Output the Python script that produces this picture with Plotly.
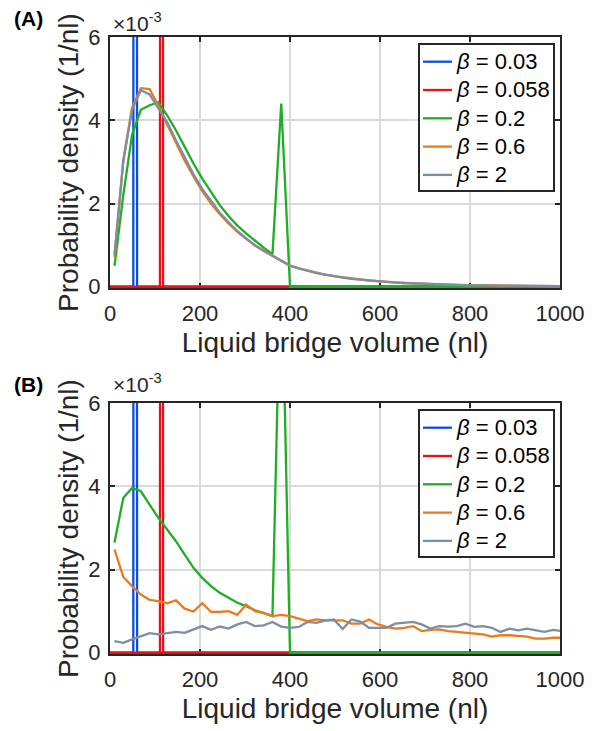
import plotly.graph_objects as go

# Bin centres of liquid bridge volume (nl)
VOLUME = [10, 29.5, 49, 68.5, 88, 107.5, 127, 146.5, 166, 185.5,
          205, 224.5, 244, 263.5, 283, 302.5, 322, 341.5, 361, 380.5,
          400, 419.5, 439, 458.5, 478, 497.5, 517, 536.5, 556, 575.5,
          595, 614.5, 634, 653.5, 673, 692.5, 712, 731.5, 751, 770.5,
          790, 809.5, 829, 848.5, 868, 887.5, 907, 926.5, 946, 965.5,
          985, 1004.5]

# Narrow (delta-like) distributions for small beta
SPIKE_003_X = [0, 51.8, 56, 60.2, 1000]
SPIKE_003_Y = [0, 0, 120, 0, 0]          # x1e-3 (1/nl)
SPIKE_0058_X = [0, 111, 114.5, 118, 1000]
SPIKE_0058_Y = [0, 0, 120, 0, 0]

# Panel A densities (x1e-3 1/nl)
A_B02 = [0.5, 2.2, 3.65, 4.25, 4.36, 4.43, 4.12, 3.76, 3.36, 2.96,
         2.6, 2.27, 1.96, 1.7, 1.47, 1.28, 1.1, 0.94, 0.78, 4.4,
         0, 0, 0, 0, 0, 0, 0, 0, 0, 0,
         0, 0, 0, 0, 0, 0, 0, 0, 0, 0,
         0, 0, 0, 0, 0, 0, 0, 0, 0, 0,
         0, 0]
A_B06 = [0.72, 3.05, 4.3, 4.77, 4.75, 4.35, 3.9, 3.45, 3.03, 2.65,
         2.3, 2.0, 1.74, 1.52, 1.32, 1.15, 0.99, 0.86, 0.74, 0.61,
         0.5, 0.44, 0.385, 0.335, 0.29, 0.255, 0.225, 0.195, 0.175, 0.15,
         0.135, 0.115, 0.105, 0.09, 0.082, 0.072, 0.063, 0.057, 0.05, 0.046,
         0.04, 0.037, 0.033, 0.029, 0.027, 0.024, 0.021, 0.019, 0.017, 0.015,
         0.014, 0.012]
A_B2 = [0.77, 3.0, 4.25, 4.72, 4.62, 4.3, 3.95, 3.52, 3.1, 2.7,
        2.35, 2.05, 1.78, 1.55, 1.34, 1.16, 1.0, 0.87, 0.75, 0.62,
        0.51, 0.44, 0.38, 0.33, 0.29, 0.25, 0.22, 0.19, 0.17, 0.15,
        0.13, 0.115, 0.10, 0.09, 0.08, 0.07, 0.062, 0.055, 0.05, 0.045,
        0.04, 0.036, 0.032, 0.029, 0.026, 0.023, 0.021, 0.019, 0.017, 0.015,
        0.013, 0.012]

# Panel B densities (x1e-3 1/nl)
B_B02 = [2.65, 3.72, 3.96, 3.88, 3.56, 3.24, 2.96, 2.68, 2.36, 2.04,
         1.8, 1.6, 1.44, 1.32, 1.2, 1.12, 1.02, 0.95, 0.88, 10.0,
         0, 0, 0, 0, 0, 0, 0, 0, 0, 0,
         0, 0, 0, 0, 0, 0, 0, 0, 0, 0,
         0, 0, 0, 0, 0, 0, 0, 0, 0, 0,
         0, 0]
B_B06 = [2.48, 1.82, 1.6, 1.4, 1.27, 1.24, 1.19, 1.26, 1.06, 0.99,
         1.19, 0.98, 0.98, 1.0, 0.91, 1.16, 1.0, 0.96, 0.88, 0.91,
         0.88, 0.82, 0.76, 0.8, 0.78, 0.78, 0.78, 0.7, 0.7, 0.8,
         0.68, 0.62, 0.58, 0.6, 0.64, 0.52, 0.55, 0.56, 0.52, 0.5,
         0.48, 0.47, 0.44, 0.39, 0.42, 0.42, 0.4, 0.39, 0.34, 0.34,
         0.36, 0.36]
B_B2 = [0.28, 0.24, 0.32, 0.4, 0.47, 0.44, 0.47, 0.5, 0.48, 0.56,
        0.64, 0.55, 0.63, 0.58, 0.68, 0.74, 0.64, 0.66, 0.74, 0.63,
        0.6, 0.62, 0.74, 0.72, 0.77, 0.8, 0.57, 0.8, 0.75, 0.6,
        0.6, 0.6, 0.7, 0.72, 0.74, 0.68, 0.58, 0.64, 0.63, 0.64,
        0.7, 0.62, 0.64, 0.6, 0.5, 0.58, 0.54, 0.58, 0.54, 0.5,
        0.55, 0.52]

LABELS = ["0.03", "0.058", "0.2", "0.6", "2"]
COLORS = ["#0a4fe0", "#e3121b", "#1fae24", "#ec7a1c", "#7b8ea5"]
X_TICKS = [0, 200, 400, 600, 800, 1000]
Y_TICKS = [0, 2, 4, 6]

FONT = "Liberation Sans, Arial, sans-serif"
AX = "#262626"

# The page has an 8 px body margin; the figure is sized so the plot areas
# land at page x 110-560, y 37-288 (A) and 403-654 (B).
OFF = 8
W, H = 597 - OFF, 731 - OFF
ML, MR, MT, MB = 110 - OFF, 37, 37 - OFF, 77
PW, PH = W - ML - MR, H - MT - MB


def px_x(px):
    return (px - OFF - ML) / PW


def px_y(py):
    return (H - MB - (py - OFF)) / PH


fig = go.Figure()

panels = [
    ("x", "y", [A_B02, A_B06, A_B2]),
    ("x2", "y2", [B_B02, B_B06, B_B2]),
]
for xa, ya, (b02, b06, b2) in panels:
    series = [
        (SPIKE_003_X, SPIKE_003_Y),
        (SPIKE_0058_X, SPIKE_0058_Y),
        (VOLUME, b02),
        (VOLUME, b06),
        (VOLUME, b2),
    ]
    for (xs, ys), lab, col in zip(series, LABELS, COLORS):
        fig.add_trace(go.Scatter(
            x=xs, y=ys, mode="lines", xaxis=xa, yaxis=ya,
            name="β = " + lab, showlegend=False,
            line=dict(color=col, width=2.3),
        ))

axis_common = dict(
    showline=True, linecolor=AX, linewidth=2, mirror="ticks",
    ticks="inside", ticklen=5, tickwidth=2, tickcolor=AX,
    showgrid=True, gridcolor="#dadada", gridwidth=1.5,
    zeroline=False, automargin=False, layer="below traces",
    tickfont=dict(family=FONT, size=22, color=AX),
    title_font=dict(family=FONT, size=28, color=AX),
)

top_dom = [px_y(288), 1.0]
bot_dom = [0.0, px_y(403)]

fig.update_layout(
    width=W, height=H,
    margin=dict(l=ML, r=MR, t=MT, b=MB),
    paper_bgcolor="white", plot_bgcolor="white",
    showlegend=False,
    xaxis=dict(axis_common, domain=[0, 1], range=[0, 1000], tickvals=X_TICKS,
               anchor="y", ticklabelstandoff=5,
               title=dict(text="Liquid bridge volume (nl)", standoff=7)),
    yaxis=dict(axis_common, domain=top_dom, range=[-0.03, 6], tickvals=Y_TICKS,
               anchor="x", ticklabelstandoff=3,
               title=dict(text="Probability density (1/nl)", standoff=2)),
    xaxis2=dict(axis_common, domain=[0, 1], range=[0, 1000], tickvals=X_TICKS,
                anchor="y2", ticklabelstandoff=5,
                title=dict(text="Liquid bridge volume (nl)", standoff=7)),
    yaxis2=dict(axis_common, domain=bot_dom, range=[-0.03, 6], tickvals=Y_TICKS,
                anchor="x2", ticklabelstandoff=3,
                title=dict(text="Probability density (1/nl)", standoff=2)),
)

# Legends (one per panel), drawn as framed boxes with line samples
shapes = []
annotations = []
for axis_top in (37, 403):
    box_top = axis_top + 7
    box_bot = box_top + 147
    shapes.append(dict(type="rect", xref="paper", yref="paper",
                       x0=px_x(419), x1=px_x(554), y0=px_y(box_bot), y1=px_y(box_top),
                       line=dict(color=AX, width=2), fillcolor="white", layer="above"))
    for i, (lab, col) in enumerate(zip(LABELS, COLORS)):
        cy = box_top + 17.7 + 28.3 * i
        shapes.append(dict(type="line", xref="paper", yref="paper",
                           x0=px_x(423), x1=px_x(452), y0=px_y(cy), y1=px_y(cy),
                           line=dict(color=col, width=2.3), layer="above"))
        annotations.append(dict(xref="paper", yref="paper", x=px_x(454), y=px_y(cy),
                                xanchor="left", yanchor="middle", showarrow=False,
                                text="<i>β</i> = " + lab,
                                font=dict(family=FONT, size=22, color="black")))

for axis_top, label, lift in [(37, "(A)", 0), (403, "(B)", 5)]:
    annotations.append(dict(xref="paper", yref="paper", x=px_x(111), y=px_y(axis_top - lift),
                            xanchor="left", yanchor="bottom", showarrow=False,
                            text="×10<sup>-3</sup>",
                            font=dict(family=FONT, size=21, color=AX)))
    annotations.append(dict(xref="paper", yref="paper", x=px_x(12), y=px_y(axis_top - 18),
                            xanchor="left", yanchor="middle", showarrow=False,
                            text="<b>" + label + "</b>",
                            font=dict(family=FONT, size=21, color="black")))

fig.update_layout(shapes=shapes, annotations=annotations)

fig.write_html("out.html")
